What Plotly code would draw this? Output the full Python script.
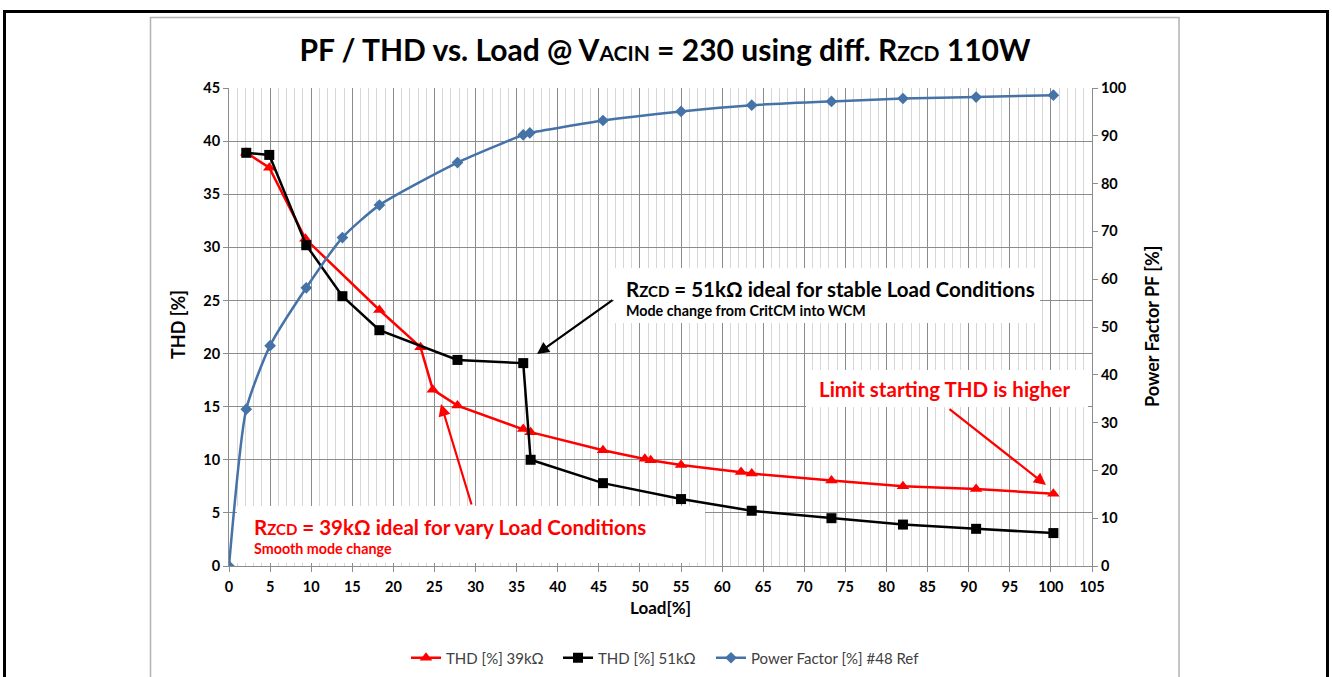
import plotly.graph_objects as go

# ---------------- data ----------------
load_39k = [2.1, 4.9, 9.3, 18.3, 23.3, 24.8, 27.8, 35.8, 36.7, 45.5, 50.6, 51.3,
            55.0, 62.3, 63.6, 73.3, 82.0, 90.9, 100.3]
thd_39k = [38.9, 37.5, 30.8, 24.1, 20.6, 16.6, 15.1, 12.9, 12.6, 10.9, 10.1, 9.95,
           9.5, 8.85, 8.7, 8.05, 7.5, 7.25, 6.8]

load_51k = [2.1, 4.9, 9.4, 13.8, 18.3, 27.8, 35.8, 36.7, 45.5, 55.0, 63.6, 73.3,
            82.0, 90.9, 100.3]
thd_51k = [38.9, 38.7, 30.2, 25.4, 22.2, 19.4, 19.1, 10.0, 7.8, 6.3, 5.2, 4.5,
           3.9, 3.5, 3.1]

load_pf = [0, 2.1, 5.0, 9.4, 13.8, 18.3, 27.8, 35.8, 36.6, 45.5, 55.0, 63.6,
           73.3, 82.0, 90.9, 100.3]
pf_ref = [0, 32.8, 46.1, 58.2, 68.7, 75.5, 84.4, 90.2, 90.6, 93.2, 95.1, 96.4,
          97.2, 97.8, 98.1, 98.5]

series_names = ["THD [%] 39kΩ", "THD [%] 51kΩ", "Power Factor [%] #48 Ref"]

# ---------------- layout geometry (pixels) ----------------
W, H = 1332, 677
L, R, T, B = 229, 1092, 88, 566
XMAX, YMAX = 105, 45
FONT = "Lato"


def dx(px):
    return (px - L) / (R - L) * XMAX


def dy(py):
    return (B - py) / (B - T) * YMAX


def px_(p):
    return (p - L) / (R - L)


def py_(p):
    return (B - p) / (B - T)


fig = go.Figure()
fig.add_trace(go.Scatter(x=load_39k, y=thd_39k, name=series_names[0], mode="lines+markers",
                         legend="legend", showlegend=True,
                         line=dict(color="#ff0000", width=2.5),
                         marker=dict(symbol="triangle-up", size=11, color="#ff0000")))
fig.add_trace(go.Scatter(x=load_51k, y=thd_51k, name=series_names[1], mode="lines+markers",
                         legend="legend2", showlegend=True,
                         line=dict(color="#000000", width=2.5),
                         marker=dict(symbol="square", size=10, color="#000000")))
fig.add_trace(go.Scatter(x=load_pf, y=pf_ref, name=series_names[2], mode="lines+markers",
                         yaxis="y2", legend="legend3", showlegend=True,
                         line=dict(color="#4572a7", width=2.5, shape="spline", smoothing=0.6),
                         marker=dict(symbol="diamond", size=9, color="#4572a7")))

shapes = []
# outer black frame
shapes.append(dict(type="rect", xref="paper", yref="paper",
                   x0=px_(4.5), x1=px_(1327.5), y0=py_(700), y1=py_(11.5),
                   line=dict(color="black", width=3), fillcolor="rgba(0,0,0,0)", layer="above"))
# inner chart frame
shapes.append(dict(type="rect", xref="paper", yref="paper",
                   x0=px_(150.5), x1=px_(1179), y0=py_(700), y1=py_(17.5),
                   line=dict(color="#b3b3b3", width=1.5), fillcolor="rgba(0,0,0,0)", layer="below"))

# white text boxes (hide gridlines)
boxes = [(614, 1040, 268, 323), (806, 1088, 370, 407), (237, 705, 506, 563)]
for x0, x1, y0, y1 in boxes:
    shapes.append(dict(type="rect", xref="x", yref="y", x0=dx(x0), x1=dx(x1), y0=dy(y1), y1=dy(y0),
                       line=dict(width=0), fillcolor="white", layer="between"))

ann = []
sub = "<span style='font-size:15px'>ZCD</span>"
BIG, SMALL = 20.5, 14.3
# black annotation
ann.append(dict(x=dx(624), y=dy(289), xref="x", yref="y", xanchor="left", yanchor="middle",
                text="<b>R" + sub + " = 51kΩ ideal for stable Load Conditions</b>",
                showarrow=False, font=dict(family=FONT, size=BIG, color="black")))
ann.append(dict(x=dx(624), y=dy(310), xref="x", yref="y", xanchor="left", yanchor="middle",
                text="<b>Mode change from CritCM into WCM</b>",
                showarrow=False, font=dict(family=FONT, size=SMALL, color="black")))
# red limit annotation
ann.append(dict(x=dx(817), y=dy(389), xref="x", yref="y", xanchor="left", yanchor="middle",
                text="<b>Limit starting THD is higher</b>",
                showarrow=False, font=dict(family=FONT, size=BIG, color="#ff0000")))
# red 39k annotation
ann.append(dict(x=dx(252), y=dy(527), xref="x", yref="y", xanchor="left", yanchor="middle",
                text="<b>R" + sub + " = 39kΩ ideal for vary Load Conditions</b>",
                showarrow=False, font=dict(family=FONT, size=BIG, color="#ff0000")))
ann.append(dict(x=dx(252), y=dy(548), xref="x", yref="y", xanchor="left", yanchor="middle",
                text="<b>Smooth mode change</b>",
                showarrow=False, font=dict(family=FONT, size=SMALL, color="#ff0000")))

# arrows (tail -> head)
arrows = [((614, 299), (537, 354), "black"),
          ((948, 408), (1046, 485), "#ff0000"),
          ((472, 506), (441, 404), "#ff0000")]
for (tx, ty), (hx, hy), col in arrows:
    ann.append(dict(x=dx(hx), y=dy(hy), ax=dx(tx), ay=dy(ty), xref="x", yref="y",
                    axref="x", ayref="y", text="", showarrow=True, arrowhead=2,
                    arrowsize=1.1, arrowwidth=2.2, arrowcolor=col))

# axis titles
ann.append(dict(x=px_(178), y=py_(325), xref="paper", yref="paper", text="<b>THD [%]</b>",
                xanchor="center", yanchor="middle",
                textangle=-90, showarrow=False, font=dict(family=FONT, size=18, color="black")))
ann.append(dict(x=px_(1152), y=py_(327), xref="paper", yref="paper",
                text="<b>Power Factor PF [%]</b>", xanchor="center", yanchor="middle",
                textangle=-90, showarrow=False, font=dict(family=FONT, size=18, color="black")))
ann.append(dict(x=px_(660), y=py_(607), xref="paper", yref="paper", text="<b>Load[%]</b>",
                xanchor="center", yanchor="middle",
                showarrow=False, font=dict(family=FONT, size=17, color="black")))

grid_major = "#8c8c8c"
grid_minor = "#d6d6d6"
TICKF = dict(family=FONT, size=14.5, color="black")


def legend_at(px_left):
    return dict(orientation="h", x=px_(px_left), y=py_(658), xanchor="left", yanchor="middle",
                font=dict(family=FONT, size=15, color="#404040"), bgcolor="rgba(0,0,0,0)",
                itemwidth=30, visible=True)


fig.update_layout(
    width=W, height=H,
    showlegend=True,
    margin=dict(l=L, r=W - R, t=T, b=H - B, pad=0, autoexpand=False),
    paper_bgcolor="white", plot_bgcolor="white",
    font=dict(family=FONT, color="black"),
    title=dict(text="<b>PF / THD vs. Load @ V<span style='font-size:21px'>ACIN</span> = 230 using diff. "
                    "R<span style='font-size:21px'>ZCD</span> 110W</b>",
               x=665 / W, y=1 - 50 / H, xanchor="center", yanchor="middle",
               font=dict(family=FONT, size=30, color="black")),
    xaxis=dict(range=[0, XMAX], dtick=5, tick0=0, showgrid=True, gridcolor=grid_major, gridwidth=1,
               minor=dict(dtick=1, showgrid=True, gridcolor=grid_minor, gridwidth=1),
               showline=True, linecolor=grid_major, linewidth=1,
               ticks="outside", ticklen=5, tickcolor=grid_major,
               tickfont=TICKF, tickprefix="<b>", ticksuffix="</b>", ticklabelstandoff=3,
               zeroline=False, fixedrange=True),
    yaxis=dict(range=[0, YMAX], dtick=5, showgrid=True, gridcolor=grid_major, gridwidth=1,
               showline=True, linecolor=grid_major, linewidth=1,
               ticks="outside", ticklen=5, tickcolor=grid_major,
               tickfont=TICKF, tickprefix="<b>", ticksuffix="</b>",
               zeroline=False),
    yaxis2=dict(range=[0, 100], dtick=10, overlaying="y", side="right", showgrid=False,
                showline=True, linecolor=grid_major, linewidth=1,
                ticks="outside", ticklen=5, tickcolor=grid_major,
                tickfont=TICKF, tickprefix="<b>", ticksuffix="</b>",
                zeroline=False),
    legend=legend_at(406),
    legend2=legend_at(558),
    legend3=legend_at(711),
    shapes=shapes,
    annotations=ann,
)

fig.write_html("out.html", config={"displayModeBar": False},
               post_script="document.body.style.margin='0px';")
